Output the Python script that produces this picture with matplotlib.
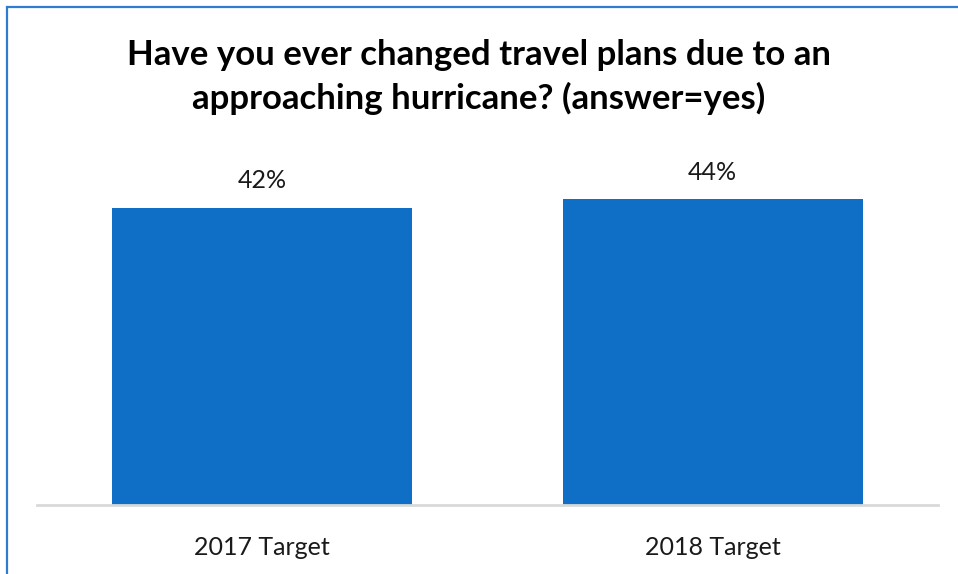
import matplotlib
matplotlib.use("Agg")
import matplotlib.pyplot as plt
from matplotlib.patches import Rectangle

# data
categories = ["2017 Target", "2018 Target"]
values = [42.4, 43.6]  # percent "yes"
title = "Have you ever changed travel plans due to an\napproaching hurricane? (answer=yes)"

BAR_COLOR = "#0F6FC6"
BORDER_COLOR = "#2E7BD1"

plt.rcParams["font.family"] = ["Lato", "DejaVu Sans"]

fig = plt.figure(figsize=(9.58, 5.74), dpi=100)
ax = fig.add_axes([0.0386, 0.1202, 0.9405, 0.6185])

x = range(len(categories))
bars = ax.bar(x, values, width=0.666, color=BAR_COLOR, zorder=2)

for rect, v in zip(bars, values):
    ax.text(rect.get_x() + rect.get_width() / 2, v + 2.2, f"{v:.0f}%",
            ha="center", va="bottom", fontsize=18, color="#1a1a1a")

ax.set_xlim(-0.5, len(categories) - 0.5)
ax.set_ylim(0, 50.6)
ax.set_xticks(list(x))
ax.set_xticklabels(categories, fontsize=18, color="#1a1a1a")
ax.tick_params(axis="x", length=0, pad=22)
ax.set_yticks([])

for side in ("left", "right", "top"):
    ax.spines[side].set_visible(False)
ax.spines["bottom"].set_color("#D9D9D9")
ax.spines["bottom"].set_linewidth(2)

fig.text(0.5, 0.866, title, ha="center", va="center", fontsize=25,
         fontweight="bold", color="black", linespacing=1.4)

# blue chart border (cropped at right and bottom in the reference)
fig.patches.append(Rectangle((7 / 958, -0.05), 1.1, 1 - 7 / 574 + 0.05,
                             transform=fig.transFigure, fill=False,
                             edgecolor=BORDER_COLOR, linewidth=1.6))

fig.savefig("out.png", dpi=100)
plt.close(fig)
